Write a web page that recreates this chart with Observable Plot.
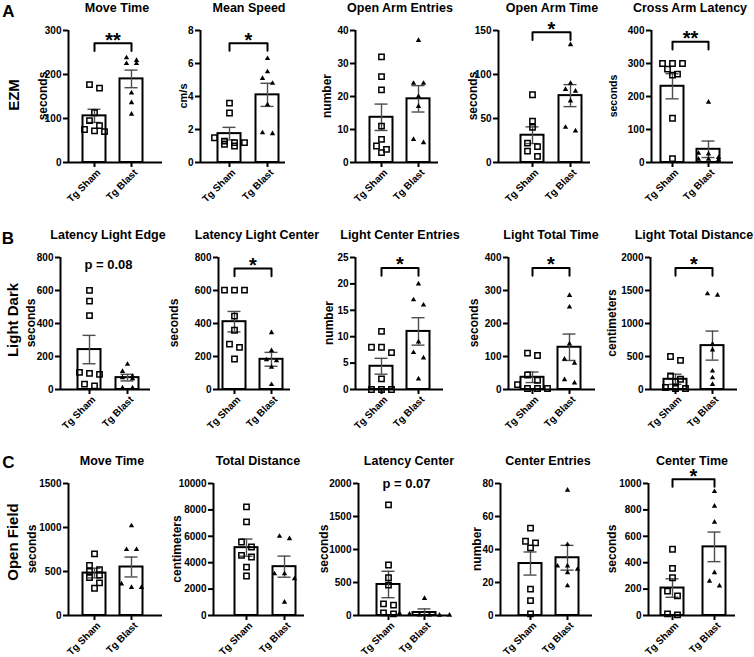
<!DOCTYPE html>
<html><head><meta charset="utf-8">
<script src="https://cdn.jsdelivr.net/npm/d3@7"></script>
<script src="https://cdn.jsdelivr.net/npm/@observablehq/plot@0.6"></script>
<style>
body{margin:0;background:#fff;}
#fig{position:relative;width:754px;height:657px;overflow:hidden;background:#fff;font-family:"Liberation Sans",Arial,sans-serif;font-weight:bold;color:#000;}
.lbl{position:absolute;white-space:nowrap;transform:translate(-50%,-50%);line-height:1;}
.rot{transform:translate(-50%,-50%) rotate(-90deg);}
</style></head><body><div id="fig"></div>
<script>
// ---------- data ----------
const groups = ["Tg Sham", "Tg Blast"];
const panelLetters = ["A", "B", "C"];
const rowLabels = ["EZM", "Light Dark", "Open Field"];
const titles = ["Move Time", "Mean Speed", "Open Arm Entries", "Open Arm Time", "Cross Arm Latency",
  "Latency Light Edge", "Latency Light Center", "Light Center Entries", "Light Total Time", "Light Total Distance",
  "Move Time", "Total Distance", "Latency Center", "Center Entries", "Center Time"];
const yLabels = ["seconds", "cm/s", "number", "seconds", "seconds",
  "seconds", "seconds", "number", "seconds", "centimeters",
  "seconds", "centimeters", "seconds", "number", "seconds"];
const yMaxes = [300, 8, 40, 150, 400, 800, 800, 25, 400, 2000, 1500, 10000, 2000, 80, 1000];
const yTickSteps = [100, 2, 10, 50, 100, 200, 200, 5, 100, 500, 500, 2000, 500, 20, 200];

const shamMeans  = [106, 1.75, 13.7, 31, 231, 242, 411, 4.4, 37, 155, 482, 5140, 470, 31.5, 208];
const shamSems   = [15, 0.38, 4, 9.5, 38, 86, 62, 1.5, 16, 77, 55, 650, 200, 7, 70];
const blastMeans = [190, 4.1, 19.3, 76, 40, 72, 183, 11, 128, 665, 551, 3700, 45, 35, 520];
const blastSems  = [20, 0.7, 4, 12.5, 25, 20, 42, 2.6, 40, 220, 113, 800, 55, 7.5, 112];

// individual animals
const ezmMoveTimeSham = [169, 177, 113, 95, 84, 70, 75, 72];
const ezmMoveTimeBlast = [232, 238, 225, 225, 158, 136, 110];
const ezmSpeedSham = [3.6, 3.0, 1.5, 1.3, 1.2, 1.1, 1.0, 1.2];
const ezmSpeedBlast = [6.3, 5.5, 5.1, 4.8, 3.5, 1.75, 1.8];
const ezmEntriesSham = [32, 26, 22, 11, 7, 5, 4, 3];
const ezmEntriesBlast = [37, 24, 24, 20, 17, 6, 7];
const ezmOpenTimeSham = [77, 47, 40, 18, 22, 13, 7];
const ezmOpenTimeBlast = [134, 90, 83, 81, 70, 36, 40];
const ezmCrossSham = [300, 300, 300, 283, 265, 268, 134, 12];
const ezmCrossBlast = [183, 28, 26, 15, 10, 8, 10];
const ldEdgeSham = [601, 536, 448, 98, 104, 92, 22, 33];
const ldEdgeBlast = [153, 110, 80, 72, 65, 10, 10];
const ldCenterSham = [602, 602, 602, 445, 359, 275, 255, 185];
const ldCenterBlast = [345, 235, 180, 175, 135, 30];
const ldEntriesSham = [11, 8, 8, 7, 2, 0, 0, 0];
const ldEntriesBlast = [20, 17, 16, 9, 7, 6, 2];
const ldTimeSham = [110, 103, 44, 28, 15, 3, 3, 3];
const ldTimeBlast = [285, 250, 138, 92, 80, 30, 20];
const ldDistSham = [500, 440, 205, 155, 120, 30, 15, 15];
const ldDistBlast = [1450, 1430, 687, 600, 280, 178, 76];
const ofMoveSham = [700, 570, 520, 500, 460, 430, 370, 310];
const ofMoveBlast = [1020, 750, 750, 360, 320, 320];
const ofDistSham = [8230, 7090, 5190, 5570, 4430, 4560, 3670, 2990];
const ofDistBlast = [6000, 5820, 3160, 2780, 3160, 1010];
const ofLatSham = [1676, 765, 572, 460, 157, 177, 25, 40];
const ofLatBlast = [258, 30, 20, 10, 8, 5, 5];
const ofEntriesSham = [53, 45, 44, 41, 16, 9, 1];
const ofEntriesBlast = [76, 43, 30, 30, 28, 26, 18];
const ofCenterTimeSham = [502, 357, 286, 148, 184, 5, 13];
const ofCenterTimeBlast = [939, 829, 707, 324, 224, 260];

const annotations = ["**", "*", "", "*", "**", "p = 0.08", "*", "*", "*", "*", "", "", "p = 0.07", "", "*"];
const bracketValues = [271, 7.23, null, 148, 366, null, 733, 23, 368, 1840, null, null, null, null, 1033];
const pTextValues = [null, null, null, null, null, 755, null, null, null, null, null, null, 2000, null, null];

const points = [
  [ezmMoveTimeSham, ezmMoveTimeBlast], [ezmSpeedSham, ezmSpeedBlast], [ezmEntriesSham, ezmEntriesBlast],
  [ezmOpenTimeSham, ezmOpenTimeBlast], [ezmCrossSham, ezmCrossBlast],
  [ldEdgeSham, ldEdgeBlast], [ldCenterSham, ldCenterBlast], [ldEntriesSham, ldEntriesBlast],
  [ldTimeSham, ldTimeBlast], [ldDistSham, ldDistBlast],
  [ofMoveSham, ofMoveBlast], [ofDistSham, ofDistBlast], [ofLatSham, ofLatBlast],
  [ofEntriesSham, ofEntriesBlast], [ofCenterTimeSham, ofCenterTimeBlast]];

// ---------- layout ----------
const axisXs = [68, 200, 355, 498, 651, 60, 218, 355, 508, 650, 68, 213, 358, 500, 648];
const axisEnds = [162, 285, 438, 590, 733, 150, 290, 443, 595, 737, 162, 304, 448, 592, 735];
const shamXs = [94, 229, 381, 532, 672, 89, 234, 381, 532, 675, 94, 246, 388, 530, 672];
const blastXs = [131, 267, 418, 570, 708, 127, 271, 418, 569, 712, 131, 284, 424, 567, 714];
const rowTops = [29.5, 256.5, 482.5];
const frameH = 132;
const titleXs = [117, 249, 400, 552, 690, 108, 257, 400, 551, 694, 112, 258, 409, 548, 692];
const titleYs = [8, 235, 461];
const yLabelOffsets = [25, 17, 28, 25, 38, 29, 44, 26, 34, 38, 36, 36, 34, 23, 36];
const yLabelSizes = [12, 11, 12, 12, 10.5, 12, 12, 12, 12, 12, 12, 12, 12, 12, 12];
const letterPos = [[8.5, 10.5], [8, 237.5], [8.5, 461.5]];
const rowLabelPos = [[13, 95], [12, 320], [12, 542]];

const fig = document.getElementById("fig");
const FONT = "Liberation Sans, Arial, sans-serif";

function addLabel(text, x, y, size, rotate) {
  const d = document.createElement("div");
  d.className = "lbl" + (rotate ? " rot" : "");
  d.textContent = text;
  d.style.left = x + "px";
  d.style.top = y + "px";
  d.style.fontSize = size + "px";
  fig.appendChild(d);
}
function addTickLabel(text, x, y, size) {
  const outer = document.createElement("div");
  outer.style.cssText = `position:absolute;left:${x}px;top:${y}px;width:0;height:0;transform:rotate(-45deg);transform-origin:0 0;`;
  const inner = document.createElement("span");
  inner.textContent = text;
  inner.style.cssText = `position:absolute;right:0;top:0;transform:translateY(-50%);white-space:nowrap;font-size:${size}px;line-height:1;`;
  outer.appendChild(inner);
  fig.appendChild(outer);
}

panelLetters.forEach((t, r) => addLabel(t, letterPos[r][0], letterPos[r][1], 17, false));
rowLabels.forEach((t, r) => addLabel(t, rowLabelPos[r][0], rowLabelPos[r][1], 15, true));
titles.forEach((t, i) => addLabel(t, titleXs[i], titleYs[Math.floor(i / 5)], 12.5, false));

function dodge(vals, ypx, thr) {
  const pts = vals.map(v => ({v, py: ypx(v)})).sort((a, b) => a.py - b.py);
  const rows = [];
  for (const p of pts) {
    const r = rows[rows.length - 1];
    if (r && p.py - r[0].py < thr) r.push(p); else rows.push([p]);
  }
  rows.forEach(r => r.forEach((p, j) => p.off = j - (r.length - 1) / 2));
  return pts;
}

for (let i = 0; i < 15; i++) {
  const row = Math.floor(i / 5);
  const mL = 60, mR = 14, mT = 40, mB = 30, H = frameH, bw = 23, colW = 10;
  const top = rowTops[row];
  const fw = axisEnds[i] - axisXs[i];
  const W = mL + fw + mR, HT = mT + H + mB;
  const ox = axisXs[i] - mL, oy = top - mT;
  const c0 = shamXs[i] - ox, c1 = blastXs[i] - ox, step = c1 - c0;
  const ymax = yMaxes[i];
  const ypx = v => H * (1 - v / ymax);
  const bars = groups.map((g, k) => ({
    g,
    mean: (k ? blastMeans : shamMeans)[i],
    sem: (k ? blastSems : shamSems)[i]
  }));
  const ticks = d3.range(0, ymax + yTickSteps[i] / 2, yTickSteps[i]);
  const marks = [
    Plot.barY(bars, {x: "g", y: "mean", fill: "white", stroke: "black", strokeWidth: 2}),
    Plot.ruleX(bars, {x: "g", y1: d => Math.max(0, d.mean - d.sem), y2: d => d.mean + d.sem, stroke: "#4d4d4d", strokeWidth: 1.4}),
    Plot.tickY(bars, {x: "g", y: d => d.mean + d.sem, stroke: "#4d4d4d", strokeWidth: 1.4, insetLeft: 5, insetRight: 5}),
    Plot.tickY(bars.filter(d => d.mean - d.sem > 0), {x: "g", y: d => d.mean - d.sem, stroke: "#4d4d4d", strokeWidth: 1.4, insetLeft: 5, insetRight: 5})
  ];
  groups.forEach((g, k) => {
    const pts = dodge(points[i][k], ypx, 5.5);
    const byOff = d3.group(pts, p => p.off);
    for (const [off, arr] of byOff) {
      if (k === 0) {
        marks.push(Plot.dot(arr, {x: () => g, y: "v", dx: off * colW, symbol: "square", r: 3, fill: "none", stroke: "black", strokeWidth: 1.5}));
      } else {
        marks.push(Plot.dot(arr, {x: () => g, y: "v", dx: off * colW, symbol: "triangle", r: 2, fill: "black", stroke: "none"}));
      }
    }
  });
  marks.push(Plot.ruleY([0], {stroke: "black", strokeWidth: 2}));
  marks.push(Plot.ruleX([groups[0]], {dx: mL - c0, stroke: "black", strokeWidth: 2}));
  marks.push(Plot.axisY({ticks, tickSize: 5, tickPadding: 2, tickFormat: d3.format("d"), fontSize: 10, fontWeight: "bold", strokeWidth: 2, label: null}));
  marks.push(Plot.axisX({tickSize: 5, tickFormat: () => "", strokeWidth: 2, label: null}));
  if (bracketValues[i] != null) {
    const b = bracketValues[i], b0 = b - 0.058 * ymax;
    const br = [{g: groups[0], v: b0}, {g: groups[0], v: b}, {g: groups[1], v: b}, {g: groups[1], v: b0}];
    marks.push(Plot.line(br, {x: "g", y: "v", stroke: "black", strokeWidth: 2, curve: "linear"}));
    marks.push(Plot.text([annotations[i]], {x: () => groups[0], y: () => b, dx: step / 2, dy: -3, text: d => d, fontSize: 20, fontWeight: "bold"}));
  }
  if (pTextValues[i] != null) {
    marks.push(Plot.text([annotations[i]], {x: () => groups[0], y: () => pTextValues[i], dx: step / 2, text: d => d, fontSize: 13, fontWeight: "bold"}));
  }
  const svg = Plot.plot({
    width: W, height: HT,
    marginLeft: mL, marginRight: mR, marginTop: mT, marginBottom: mB,
    style: {background: "transparent", overflow: "visible", fontFamily: FONT, color: "black"},
    x: {type: "band", domain: groups, range: [c0 - bw / 2, c1 + bw / 2], paddingInner: 1 - bw / step, paddingOuter: 0, align: 0.5, round: false},
    y: {domain: [0, ymax]},
    marks
  });
  svg.style.position = "absolute";
  svg.style.left = ox + "px";
  svg.style.top = oy + "px";
  svg.style.maxWidth = "none";
  fig.appendChild(svg);

  // axis titles and category labels
  addLabel(yLabels[i], axisXs[i] - yLabelOffsets[i], top + H / 2, yLabelSizes[i], true);
  [shamXs[i], blastXs[i]].forEach((cx, k) => addTickLabel(groups[k], cx + 4.5, top + H + 9.5, 10));
}
</script></body></html>
